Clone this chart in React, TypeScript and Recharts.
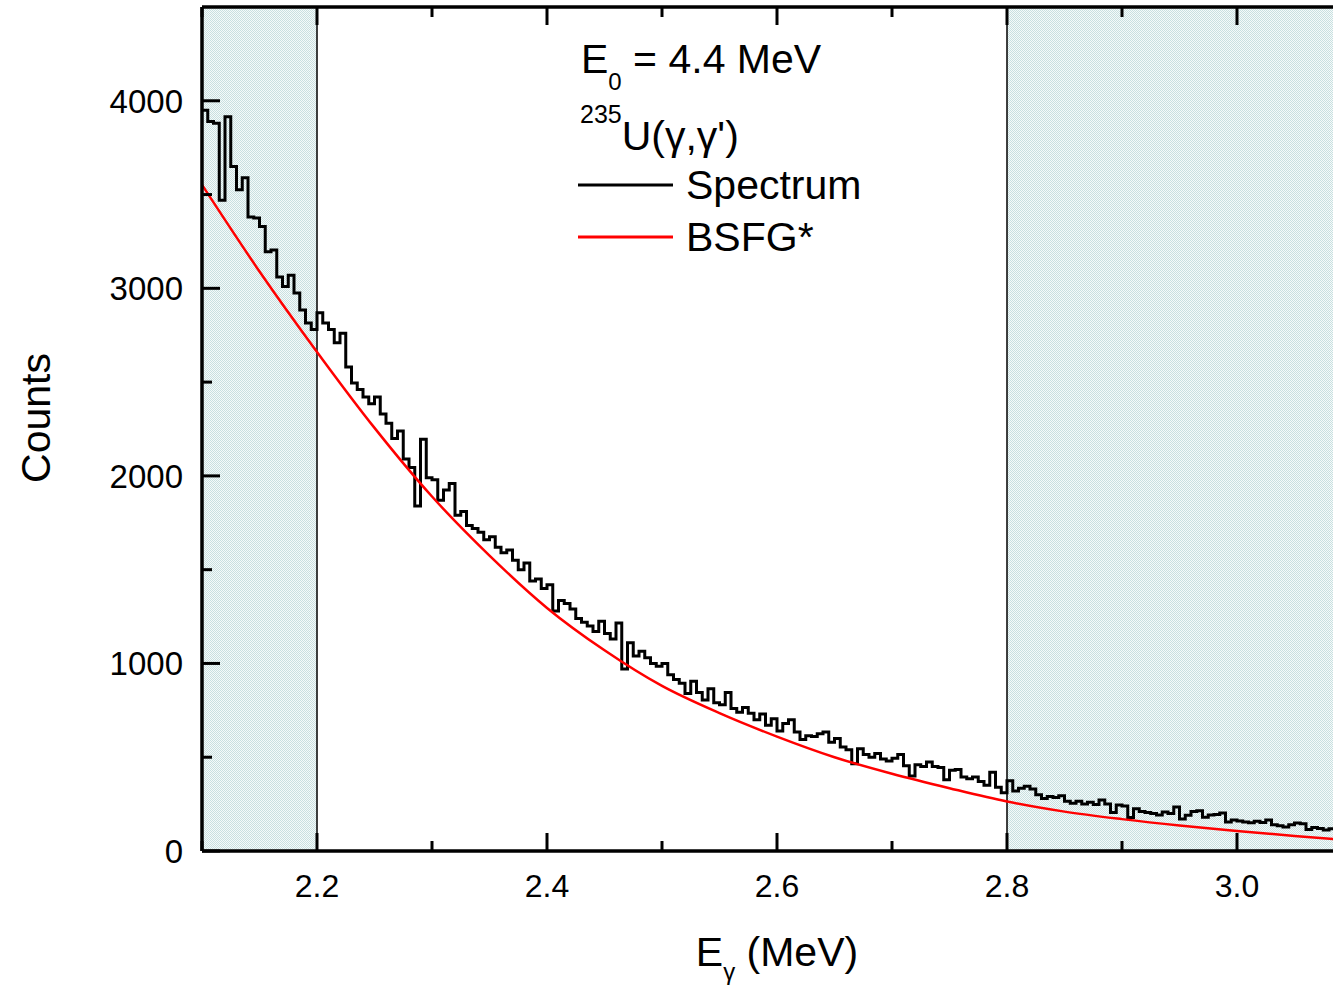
import { LineChart, Line, XAxis, YAxis, ReferenceArea, ReferenceLine } from 'recharts';

// measured spectrum, 5 keV bins starting at 2.100 MeV
const SPEC_START = 2.1;
const SPEC_BIN = 0.005;
const specCounts = [
  3950, 3890, 3880, 3470, 3915, 3650, 3525, 3590, 3380, 3375,
  3330, 3195, 3205, 3060, 3010, 3070, 2975, 2885, 2815, 2780,
  2870, 2815, 2780, 2710, 2760, 2580, 2495, 2460, 2420, 2385,
  2420, 2330, 2280, 2200, 2240, 2090, 2045, 1840, 2195, 1990,
  1980, 1870, 1925, 1960, 1790, 1810, 1735, 1720, 1700, 1660,
  1675, 1620, 1590, 1605, 1550, 1500, 1535, 1440, 1450, 1400,
  1420, 1280, 1335, 1320, 1290, 1240, 1220, 1200, 1170, 1225,
  1160, 1130, 1215, 970, 1110, 1040, 1065, 1030, 1000, 985,
  1000, 940, 915, 895, 840, 905, 845, 805, 865, 790,
  780, 845, 760, 740, 765, 735, 700, 730, 670, 705,
  640, 680, 700, 635, 595, 615, 610, 625, 635, 580,
  600, 555, 540, 465, 545, 515, 500, 520, 490, 480,
  495, 515, 455, 400, 460, 450, 475, 450, 445, 380,
  430, 435, 395, 385, 395, 370, 350, 420, 340, 310,
  375, 320, 335, 345, 330, 300, 280, 290, 285, 295,
  265, 255, 265, 250, 260, 248, 272, 250, 205, 245,
  240, 178, 225, 210, 205, 200, 192, 208, 200, 235,
  170, 190, 210, 215, 180, 192, 195, 203, 155, 165,
  160, 155, 150, 158, 152, 165, 140, 135, 128, 140,
  149, 145, 115, 125, 120, 112, 118, 123,
];

// BSFG* calculation
const fitE = [2.1, 2.15, 2.2, 2.25, 2.3, 2.35, 2.4, 2.45, 2.5, 2.55, 2.6, 2.65, 2.7, 2.75, 2.8, 2.85, 2.9, 2.95, 3.0, 3.05, 3.1];
const fitC = [3552, 3090, 2661, 2256, 1890, 1575, 1296, 1070, 880, 735, 610, 500, 412, 335, 264, 210, 170, 136, 107, 80, 57];

const xTicks = [2.1, 2.2, 2.3, 2.4, 2.5, 2.6, 2.7, 2.8, 2.9, 3.0, 3.1];
const xMajor = [2.2, 2.4, 2.6, 2.8, 3.0];
const yTicks = [0, 500, 1000, 1500, 2000, 2500, 3000, 3500, 4000];
const yMajor = [0, 1000, 2000, 3000, 4000];

const spectrum = specCounts.map((c, i) => ({ e: +(SPEC_START + i * SPEC_BIN).toFixed(3), c }));
const fit = fitE.map((e, i) => ({ e, c: fitC[i] }));

const FONT = '"Liberation Sans", Arial, sans-serif';
const isIn = (list: number[], v: number) => list.some((t) => Math.abs(t - v) < 1e-6);

const BottomTick = (props: any) => {
  const { x, y, payload } = props;
  const major = isIn(xMajor, payload.value);
  return (
    <g>
      <line x1={x} x2={x} y1={y} y2={y - (major ? 18 : 10)} stroke="#000" strokeWidth={3} />
      {major && (
        <text x={x} y={y + 46} textAnchor="middle" fontSize={32} fontFamily={FONT} fill="#000">
          {payload.value.toFixed(1)}
        </text>
      )}
    </g>
  );
};

const TopTick = (props: any) => {
  const { x, y, payload } = props;
  const major = isIn(xMajor, payload.value);
  return <line x1={x} x2={x} y1={y} y2={y + (major ? 18 : 10)} stroke="#000" strokeWidth={3} />;
};

const LeftTick = (props: any) => {
  const { x, y, payload } = props;
  const major = isIn(yMajor, payload.value);
  return (
    <g>
      <line x1={x} x2={x + (major ? 18 : 10)} y1={y} y2={y} stroke="#000" strokeWidth={3} />
      {major && (
        <text x={x - 19} y={y} dy="0.36em" textAnchor="end" fontSize={33} fontFamily={FONT} fill="#000">
          {payload.value}
        </text>
      )}
    </g>
  );
};

const CountsLabel = (props: any) => {
  const { viewBox } = props;
  const cx = viewBox.x + 35;
  const cy = viewBox.y + viewBox.height / 2 - 11;
  return (
    <text x={cx} y={cy} transform={`rotate(-90 ${cx} ${cy})`} textAnchor="middle" dy="0.36em"
      fontSize={41} fontFamily={FONT} fill="#000">
      Counts
    </text>
  );
};

const EnergyLabel = (props: any) => {
  const { viewBox } = props;
  const cx = viewBox.x + viewBox.width / 2;
  return (
    <text x={cx} y={viewBox.y + 115} textAnchor="middle" fontSize={41} fontFamily={FONT} fill="#000">
      E<tspan fontSize={24} dy={14}>γ</tspan><tspan dy={-14}> (MeV)</tspan>
    </text>
  );
};

export default function App() {
  return (
    <div style={{ position: 'absolute', left: 0, top: 0, width: 1333, height: 986, overflow: 'hidden', background: '#fff' }}>
      <LineChart width={1360} height={986} margin={{ top: 6, right: 8, bottom: 0, left: 0 }}>
        <defs>
          <pattern id="dotShade" width="2" height="2" patternUnits="userSpaceOnUse">
            <rect width="2" height="2" fill="#f5fafa" />
            <rect width="1" height="1" fill="#c9e0e0" />
            <rect x="1" y="1" width="1" height="1" fill="#c9e0e0" />
          </pattern>
        </defs>
        <XAxis dataKey="e" type="number" domain={[2.1, 3.1]} ticks={xTicks} interval={0} allowDataOverflow
          height={135} tickSize={0} tickMargin={0} tick={<BottomTick />} tickLine={false}
          axisLine={{ stroke: '#000', strokeWidth: 3.5 }} label={<EnergyLabel />} />
        <XAxis xAxisId="top" orientation="top" dataKey="e" type="number" domain={[2.1, 3.1]} ticks={xTicks}
          interval={0} allowDataOverflow height={1} tickSize={0} tickMargin={0} tick={<TopTick />} tickLine={false}
          axisLine={{ stroke: '#000', strokeWidth: 3.5 }} />
        <YAxis type="number" domain={[0, 4500]} ticks={yTicks} interval={0} width={202} tickSize={0} tickMargin={0}
          tick={<LeftTick />} tickLine={false} axisLine={{ stroke: '#000', strokeWidth: 3.5 }} label={<CountsLabel />} />
        <ReferenceArea x1={2.1} x2={2.2} y1={0} y2={4500} fill="url(#dotShade)" fillOpacity={1} stroke="none" />
        <ReferenceArea x1={2.8} x2={3.1} y1={0} y2={4500} fill="url(#dotShade)" fillOpacity={1} stroke="none" />
        <ReferenceLine x={2.2} stroke="#000" strokeWidth={1.5} />
        <ReferenceLine x={2.8} stroke="#000" strokeWidth={1.5} />
        <Line data={spectrum} dataKey="c" type="stepAfter" stroke="#000" strokeWidth={3} dot={false}
          activeDot={false} isAnimationActive={false} />
        <Line data={fit} dataKey="c" type="monotone" stroke="#f00" strokeWidth={2.5} dot={false}
          activeDot={false} isAnimationActive={false} />
      </LineChart>
      <svg width={1333} height={986} style={{ position: 'absolute', left: 0, top: 0, pointerEvents: 'none' }}>
        <text x={581} y={73} fontSize={41} fontFamily={FONT} fill="#000">
          E<tspan fontSize={24} dy={17}>0</tspan><tspan dy={-17}> = 4.4 MeV</tspan>
        </text>
        <text x={580} y={150} fontSize={41} fontFamily={FONT} fill="#000">
          <tspan fontSize={25} dy={-27}>235</tspan><tspan dy={27}>U(γ,γ')</tspan>
        </text>
        <line x1={578} x2={673} y1={185} y2={185} stroke="#000" strokeWidth={3} />
        <text x={686} y={199} fontSize={41} fontFamily={FONT} fill="#000">Spectrum</text>
        <line x1={578} x2={673} y1={237} y2={237} stroke="#f00" strokeWidth={3} />
        <text x={686} y={251} fontSize={41} fontFamily={FONT} fill="#000">BSFG*</text>
      </svg>
    </div>
  );
}
